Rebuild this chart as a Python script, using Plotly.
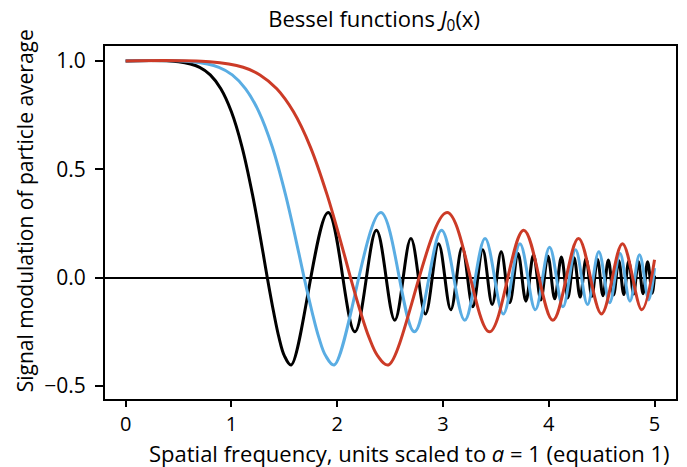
import plotly.graph_objects as go

# Black curve: key points (flat start, drop, then successive extrema)
black_x = [0, 0.5, 0.7, 0.8, 0.9, 1.0, 1.1, 1.2, 1.3, 1.3393, 1.4, 1.45, 1.5,
           1.5647, 1.9144, 2.1668, 2.3707, 2.5443, 2.6969, 2.8339, 2.9588, 3.0740, 3.1811,
           3.2814, 3.3759, 3.4654, 3.5505, 3.6318, 3.7095, 3.7841, 3.8559, 3.9251, 3.9919,
           4.0567, 4.1193, 4.1801, 4.2392, 4.2968, 4.3528, 4.4073, 4.4606, 4.5126, 4.5634,
           4.6131, 4.6619, 4.7096, 4.7563, 4.8021, 4.8471, 4.8913, 4.9348, 4.9774, 5.0]
black_y = [1.0, 0.996, 0.9708, 0.9355, 0.8715, 0.7652, 0.6038, 0.3818, 0.1121, 0.0, -0.161, -0.277, -0.3596,
           -0.4028, 0.3001, -0.2497, 0.2184, -0.1965, 0.1801, -0.1672, 0.1567, -0.1480, 0.1406,
           -0.1342, 0.1286, -0.1237, 0.1192, -0.1153, 0.1117, -0.1084, 0.1054, -0.1026, 0.1000,
           -0.0977, 0.0954, -0.0934, 0.0914, -0.0896, 0.0879, -0.0862, 0.0847, -0.0832, 0.0818,
           -0.0805, 0.0793, -0.0781, 0.0769, -0.0758, 0.0748, -0.0738, 0.0728, -0.0719, 0.009]

# Blue curve
blue_x = [0, 0.630, 0.882, 1.008, 1.134, 1.260, 1.386, 1.512, 1.638, 1.6874, 1.764, 1.827, 1.890,
          1.9714, 2.4120, 2.7300, 2.9869, 3.2056, 3.3979, 3.5705, 3.7279, 3.8730, 4.0079,
          4.1343, 4.2534, 4.3661, 4.4734, 4.5758, 4.6737, 4.7677, 4.8581, 4.9453, 5.0]
blue_y = [1.0, 0.996, 0.9708, 0.9355, 0.8715, 0.7652, 0.6038, 0.3818, 0.1121, 0.0, -0.161, -0.277, -0.3596,
          -0.4028, 0.3001, -0.2497, 0.2184, -0.1965, 0.1801, -0.1672, 0.1567, -0.1480, 0.1406,
          -0.1342, 0.1286, -0.1237, 0.1192, -0.1153, 0.1117, -0.1084, 0.1054, -0.1026, 0.044]

# Red curve
red_x = [0, 0.794, 1.111, 1.270, 1.429, 1.587, 1.746, 1.905, 2.064, 2.126, 2.222, 2.302, 2.381,
         2.4838, 3.0389, 3.4396, 3.7632, 4.0388, 4.2811, 4.4985, 4.6968, 4.8797, 5.0]
red_y = [1.0, 0.996, 0.9708, 0.9355, 0.8715, 0.7652, 0.6038, 0.3818, 0.1121, 0.0, -0.161, -0.277, -0.3596,
         -0.4028, 0.3001, -0.2497, 0.2184, -0.1965, 0.1801, -0.1672, 0.1567, -0.1480, 0.0828]

x_ticks = [0, 1, 2, 3, 4, 5]
y_ticks = [-0.5, 0.0, 0.5, 1.0]

FONT = "Open Sans"
L, R, T, B = 105, 9, 46, 68
PW, PH = 687 - L - R, 467 - T - B

fig = go.Figure()
for xs, ys, col in [(black_x, black_y, "#000000"), (blue_x, blue_y, "#5AADE3"), (red_x, red_y, "#CC3B27")]:
    fig.add_trace(go.Scatter(x=xs, y=ys, mode="lines",
                             line=dict(color=col, width=3, shape="spline", smoothing=1),
                             showlegend=False, hoverinfo="skip"))

fig.update_layout(
    width=687, height=467,
    margin=dict(l=L, r=R, t=T, b=B),
    plot_bgcolor="white", paper_bgcolor="white",
    font=dict(family=FONT, size=21, color="black"),
    title=dict(text="Bessel functions <i>J</i><sub>0</sub>(x)", x=(375 - L) / PW, xref="paper",
               xanchor="center", y=1 - 19 / 467, yref="container", yanchor="middle",
               font=dict(family=FONT, size=22, color="black")),
    xaxis=dict(range=[-0.195, 5.203], tickvals=x_ticks, ticktext=[str(v) for v in x_ticks],
               showgrid=False, zeroline=False, showline=True, linecolor="black", linewidth=2,
               mirror=True, ticks="outside", ticklen=6, tickwidth=2, tickcolor="black",
               tickfont=dict(size=20)),
    yaxis=dict(range=[-0.56, 1.069], tickvals=y_ticks, tickformat=".1f",
               showgrid=False, zeroline=True, zerolinecolor="black", zerolinewidth=2,
               showline=True, linecolor="black", linewidth=2,
               mirror=True, ticks="outside", ticklen=8, tickwidth=2, tickcolor="black",
               ticklabelstandoff=5, tickfont=dict(size=21)),
    annotations=[
        dict(text="Spatial frequency, units scaled to <i>a</i> = 1 (equation 1)",
             x=(411 - L) / PW, xref="paper", y=-(453 - (467 - B)) / PH, yref="paper",
             xanchor="center", yanchor="middle",
             showarrow=False, font=dict(family=FONT, size=22)),
        dict(text="Signal modulation of particle average", textangle=-90,
             x=(25 - L) / PW, xref="paper", y=((467 - B) - 211) / PH, yref="paper",
             xanchor="center", yanchor="middle",
             showarrow=False, font=dict(family=FONT, size=21)),
    ],
)

fig.write_html("out.html")
